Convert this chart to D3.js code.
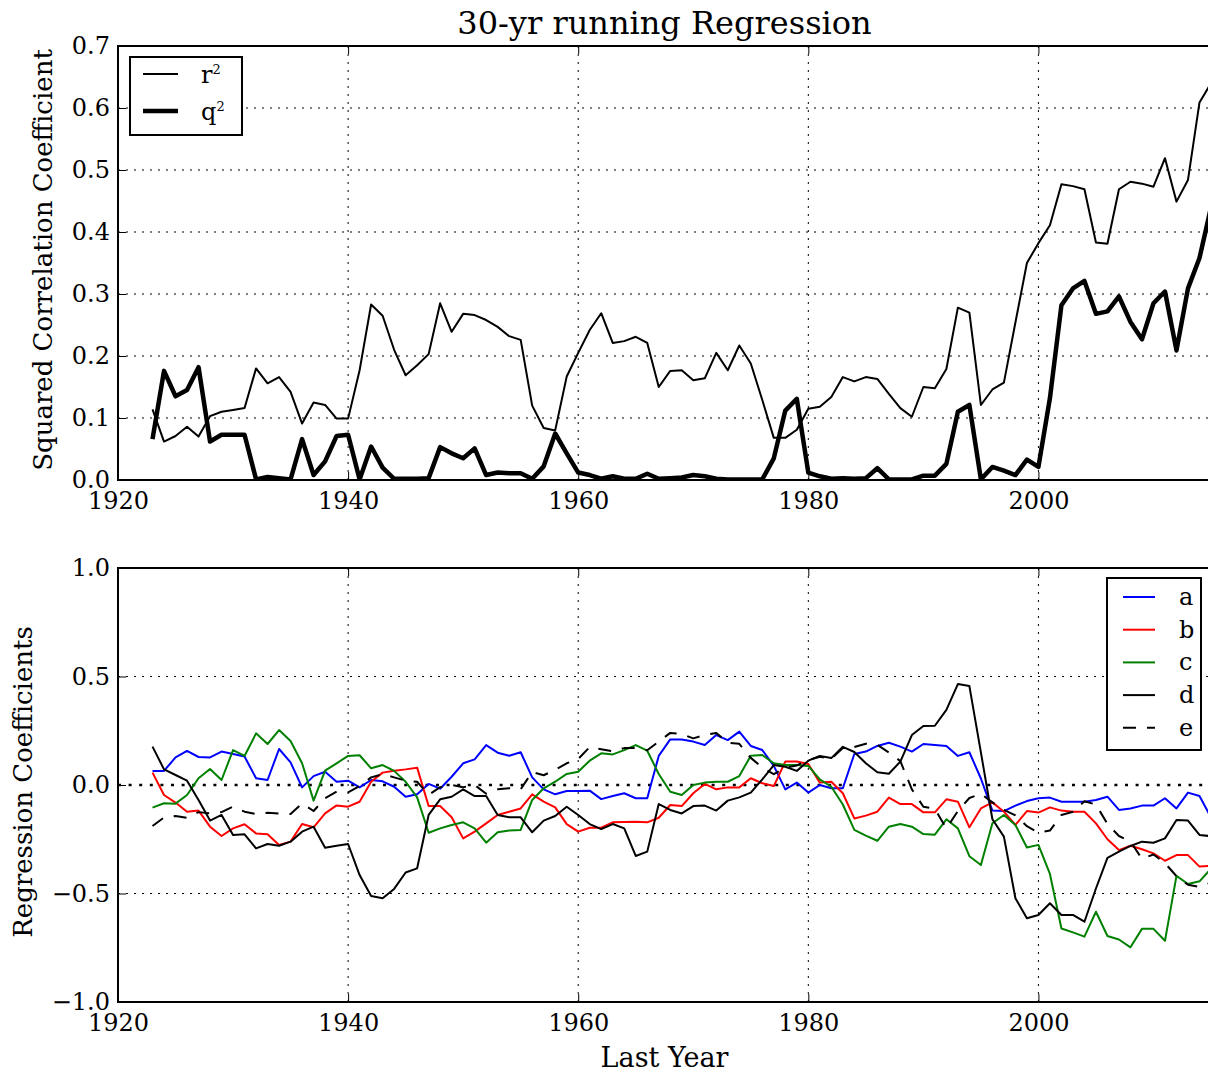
<!DOCTYPE html>
<html>
<head>
<meta charset="utf-8">
<script src="https://cdnjs.cloudflare.com/ajax/libs/d3/7.8.5/d3.min.js"></script>
<style>
    body { margin: 0; background: #fff; }
    text { font-family: "DejaVu Serif", serif; fill: #000; }
</style>
</head>
<body>
<div id="chart"></div>
<script>
'use strict';

// values, one per year 1923..2015
var years = d3.range(1923, 2016);

var r2 = [
    0.114, 0.062, 0.071, 0.086, 0.070, 0.103, 0.110, 0.113,                 // 1923-1930
    0.116, 0.180, 0.156, 0.166, 0.142, 0.091, 0.125, 0.121, 0.099, 0.099,   // 1931-1940
    0.177, 0.283, 0.265, 0.210, 0.169, 0.185, 0.203, 0.285, 0.239, 0.268,   // 1941-1950
    0.266, 0.258, 0.247, 0.232, 0.226, 0.120, 0.084, 0.080, 0.167, 0.205,   // 1951-1960
    0.242, 0.269, 0.221, 0.224, 0.231, 0.221, 0.150, 0.176, 0.177, 0.161,   // 1961-1970
    0.164, 0.205, 0.177, 0.217, 0.188, 0.129, 0.068, 0.068, 0.081, 0.115,   // 1971-1980
    0.118, 0.134, 0.166, 0.159, 0.166, 0.163, 0.139, 0.116, 0.102, 0.150,   // 1981-1990
    0.148, 0.179, 0.278, 0.270, 0.121, 0.146, 0.157, 0.254, 0.350, 0.382,   // 1991-2000
    0.411, 0.477, 0.474, 0.469, 0.383, 0.381, 0.469, 0.481, 0.478, 0.473,   // 2001-2010
    0.519, 0.449, 0.484, 0.609, 0.640                                       // 2011-2015
];

var q2 = [
    0.066, 0.176, 0.135, 0.145, 0.182, 0.062, 0.073, 0.073,
    0.073, 0.001, 0.005, 0.003, 0.001, 0.066, 0.008, 0.030, 0.071, 0.073,
    0.001, 0.054, 0.020, 0.002, 0.002, 0.002, 0.003, 0.053, 0.043, 0.035,
    0.051, 0.008, 0.012, 0.011, 0.011, 0.002, 0.022, 0.075, 0.043, 0.012,
    0.008, 0.002, 0.006, 0.002, 0.002, 0.010, 0.002, 0.003, 0.004, 0.008,
    0.006, 0.002, 0.001, 0.001, 0.001, 0.001, 0.035, 0.112, 0.131, 0.012,
    0.006, 0.002, 0.003, 0.002, 0.003, 0.019, 0.001, 0.001, 0.001, 0.007,
    0.007, 0.026, 0.110, 0.121, 0.001, 0.021, 0.015, 0.008, 0.033, 0.021,
    0.132, 0.282, 0.309, 0.321, 0.268, 0.272, 0.296, 0.255, 0.227, 0.285,
    0.304, 0.209, 0.309, 0.358, 0.440
];

var coefA = [
    0.065, 0.065, 0.127, 0.157, 0.129, 0.127, 0.154, 0.143,
    0.131, 0.031, 0.023, 0.166, 0.104, -0.011, 0.041, 0.061, 0.015, 0.020,
    -0.011, 0.023, 0.017, -0.008, -0.054, -0.043, 0.005, -0.017, 0.038, 0.100,
    0.118, 0.184, 0.149, 0.135, 0.151, 0.035, -0.020, -0.043, -0.028, -0.028,
    -0.026, -0.065, -0.051, -0.038, -0.061, -0.061, 0.134, 0.210, 0.210, 0.200,
    0.184, 0.230, 0.207, 0.246, 0.180, 0.161, 0.088, -0.020, 0.011, -0.035,
    0.000, -0.015, -0.015, 0.143, 0.154, 0.180, 0.195, 0.177, 0.154, 0.189,
    0.184, 0.180, 0.134, 0.151, 0.030, -0.118, -0.120, -0.095, -0.074, -0.061,
    -0.058, -0.077, -0.077, -0.077, -0.069, -0.054, -0.115, -0.108, -0.095, -0.095,
    -0.061, -0.108, -0.035, -0.051, -0.150
];

var coefB = [
    0.057, -0.046, -0.081, -0.123, -0.118, -0.192, -0.235, -0.200,
    -0.181, -0.223, -0.227, -0.276, -0.261, -0.180, -0.195, -0.131, -0.094, -0.100,
    -0.077, 0.015, 0.057, 0.066, 0.072, 0.080, -0.097, -0.097, -0.149, -0.246,
    -0.215, -0.177, -0.138, -0.123, -0.108, -0.043, -0.077, -0.103, -0.180, -0.215,
    -0.197, -0.197, -0.172, -0.171, -0.169, -0.172, -0.151, -0.092, -0.097, -0.038,
    0.005, -0.020, -0.011, -0.011, 0.031, 0.008, -0.005, 0.108, 0.108, 0.097,
    0.011, 0.015, -0.038, -0.154, -0.141, -0.123, -0.058, -0.088, -0.088, -0.126,
    -0.126, -0.066, -0.077, -0.195, -0.108, -0.080, -0.123, -0.184, -0.120, -0.127,
    -0.103, -0.118, -0.123, -0.123, -0.177, -0.250, -0.300, -0.280, -0.296, -0.315,
    -0.349, -0.323, -0.323, -0.376, -0.373
];

var coefC = [
    -0.104, -0.084, -0.086, -0.046, 0.031, 0.074, 0.023, 0.161,
    0.134, 0.238, 0.189, 0.253, 0.203, 0.100, -0.072, 0.066, 0.100, 0.134,
    0.137, 0.077, 0.092, 0.065, 0.015, -0.057, -0.220, -0.200, -0.184, -0.172,
    -0.200, -0.266, -0.218, -0.210, -0.207, -0.069, -0.015, 0.015, 0.051, 0.061,
    0.112, 0.146, 0.141, 0.161, 0.184, 0.158, 0.051, -0.031, -0.046, 0.000,
    0.011, 0.015, 0.015, 0.041, 0.135, 0.138, 0.100, 0.092, 0.092, 0.088,
    0.026, -0.008, -0.090, -0.207, -0.233, -0.257, -0.192, -0.180, -0.192, -0.226,
    -0.229, -0.158, -0.200, -0.328, -0.369, -0.176, -0.138, -0.184, -0.288, -0.276,
    -0.410, -0.661, -0.679, -0.699, -0.584, -0.696, -0.712, -0.748, -0.663, -0.663,
    -0.718, -0.419, -0.456, -0.444, -0.385
];

var coefD = [
    0.177, 0.072, 0.046, 0.020, -0.069, -0.164, -0.138, -0.230,
    -0.227, -0.292, -0.272, -0.280, -0.261, -0.215, -0.192, -0.289, -0.280, -0.272,
    -0.415, -0.512, -0.522, -0.479, -0.403, -0.384, -0.138, -0.066, -0.054, -0.020,
    -0.051, -0.051, -0.138, -0.149, -0.149, -0.218, -0.164, -0.143, -0.100, -0.138,
    -0.180, -0.203, -0.180, -0.200, -0.327, -0.307, -0.088, -0.115, -0.131, -0.097,
    -0.095, -0.118, -0.072, -0.057, -0.035, 0.026, 0.092, 0.084, 0.065, 0.112,
    0.134, 0.124, 0.176, 0.152, 0.100, 0.059, 0.052, 0.108, 0.230, 0.272,
    0.273, 0.346, 0.465, 0.456, 0.150, -0.158, -0.238, -0.522, -0.614, -0.599,
    -0.545, -0.599, -0.599, -0.630, -0.477, -0.336, -0.307, -0.281, -0.261, -0.266,
    -0.246, -0.161, -0.164, -0.230, -0.236
];

var coefE = [
    -0.189, -0.150, -0.143, -0.151, -0.125, -0.131, -0.125, -0.100,
    -0.123, -0.134, -0.128, -0.132, -0.134, -0.085, -0.120, -0.061, -0.031, -0.034,
    -0.005, 0.035, 0.050, 0.035, 0.020, 0.015, -0.045, -0.010, 0.000, -0.010,
    0.000, -0.040, -0.020, -0.015, -0.020, 0.060, 0.045, 0.070, 0.100, 0.120,
    0.175, 0.165, 0.155, 0.170, 0.170, 0.160, 0.200, 0.240, 0.235, 0.215,
    0.230, 0.240, 0.195, 0.190, 0.125, 0.080, 0.050, 0.080, 0.090, 0.115,
    0.130, 0.120, 0.170, 0.175, 0.190, 0.185, 0.150, 0.110, -0.020, -0.100,
    -0.110, -0.200, -0.120, -0.060, -0.040, -0.080, -0.115, -0.140, -0.190, -0.220,
    -0.210, -0.138, -0.123, -0.075, -0.090, -0.180, -0.235, -0.260, -0.340, -0.320,
    -0.360, -0.420, -0.460, -0.470, -0.450
];

var xTicks = [1920, 1940, 1960, 1980, 2000];
var topYTicks = [0, 0.1, 0.2, 0.3, 0.4, 0.5, 0.6, 0.7];
var bottomYTicks = [-1, -0.5, 0, 0.5, 1];

var topSeries = [
    {label: 'r', values: r2, width: 2},
    {label: 'q', values: q2, width: 4.5}
];
var bottomSeries = [
    {label: 'a', values: coefA, color: '#0000ff', dash: null},
    {label: 'b', values: coefB, color: '#ff0000', dash: null},
    {label: 'c', values: coefC, color: '#008000', dash: null},
    {label: 'd', values: coefD, color: '#000000', dash: null},
    {label: 'e', values: coefE, color: '#000000', dash: '13,11'}
];

var width = 1208,
    height = 1072,
    left = 118,
    right = 1211;

var svg = d3.select('#chart').append('svg')
    .attr('width', width)
    .attr('height', height);

var x = d3.scaleLinear().domain([1920, 2015]).range([left, right]);

var drawPanel = function (id, top, bottom, y, gridTicks, yTicks, fmt) {
    var g = svg.append('g').attr('class', id);

    g.append('clipPath').attr('id', 'clip-' + id)
        .append('rect')
        .attr('x', left).attr('y', top)
        .attr('width', right - left).attr('height', bottom - top);

    // dotted grid
    g.selectAll('.vgrid').data(xTicks.slice(1))
        .enter().append('line')
        .attr('x1', function (d) { return x(d); })
        .attr('x2', function (d) { return x(d); })
        .attr('y1', top).attr('y2', bottom)
        .style('stroke', '#000').style('stroke-width', 1)
        .style('stroke-dasharray', '2,6');
    g.selectAll('.hgrid').data(gridTicks)
        .enter().append('line')
        .attr('x1', left).attr('x2', right)
        .attr('y1', function (d) { return y(d); })
        .attr('y2', function (d) { return y(d); })
        .style('stroke', '#000').style('stroke-width', 1)
        .style('stroke-dasharray', '2,6');

    // axes, ticks pointing inward
    g.append('g').attr('transform', 'translate(0,' + bottom + ')')
        .call(d3.axisBottom(x).tickValues(xTicks).tickFormat(d3.format('d'))
            .tickSize(-8).tickPadding(12));
    g.append('g').attr('transform', 'translate(0,' + top + ')')
        .call(d3.axisTop(x).tickValues(xTicks).tickFormat('').tickSize(-8));
    g.append('g').attr('transform', 'translate(' + left + ',0)')
        .call(d3.axisLeft(y).tickValues(yTicks).tickFormat(d3.format(fmt))
            .tickSize(-8).tickPadding(8));

    g.selectAll('.domain').remove();
    g.selectAll('.tick line').style('stroke', '#000').style('stroke-width', 1);
    g.selectAll('.tick text')
        .style('font-family', '"DejaVu Serif", serif')
        .style('font-size', '24px')
        .style('fill', '#000');

    return g;
};

var frame = function (g, top, bottom) {
    g.append('rect')
        .attr('x', left).attr('y', top)
        .attr('width', right - left).attr('height', bottom - top)
        .style('fill', 'none').style('stroke', '#000').style('stroke-width', 2);
};

// ---- top panel
var yTop = d3.scaleLinear().domain([0, 0.7]).range([480, 46]);
var gTop = drawPanel('top', 46, 480, yTop, topYTicks.slice(1, -1), topYTicks, '.1f');

var lineTop = d3.line()
    .x(function (d, i) { return x(years[i]); })
    .y(function (d) { return yTop(d); });

gTop.append('g').attr('clip-path', 'url(#clip-top)')
    .selectAll('path').data(topSeries)
    .enter().append('path')
    .attr('d', function (d) { return lineTop(d.values); })
    .style('fill', 'none')
    .style('stroke', '#000')
    .style('stroke-width', function (d) { return d.width; })
    .style('stroke-linejoin', 'round');

frame(gTop, 46, 480);

// legend
var legTop = gTop.append('g');
legTop.append('rect')
    .attr('x', 130).attr('y', 57).attr('width', 112).attr('height', 78)
    .style('fill', '#fff').style('stroke', '#000').style('stroke-width', 2);
var legTopRows = legTop.selectAll('.row').data(topSeries)
    .enter().append('g')
    .attr('transform', function (d, i) { return 'translate(0,' + (74 + i * 37) + ')'; });
legTopRows.append('line')
    .attr('x1', 143).attr('x2', 178)
    .style('stroke', '#000')
    .style('stroke-width', function (d) { return d.width; });
var lt = legTopRows.append('text')
    .attr('x', 201).attr('y', 9)
    .style('font-size', '24px');
lt.append('tspan').text(function (d) { return d.label; });
lt.append('tspan').attr('dy', -9).style('font-size', '13px').text('2');

svg.append('text')
    .attr('x', (left + right) / 2).attr('y', 34)
    .attr('text-anchor', 'middle')
    .style('font-size', '32px')
    .text('30-yr running Regression');

svg.append('text')
    .attr('transform', 'translate(52,260) rotate(-90)')
    .attr('text-anchor', 'middle')
    .style('font-size', '26px')
    .text('Squared Correlation Coefficient');

// ---- bottom panel
var yBot = d3.scaleLinear().domain([-1, 1]).range([1002, 568]);
var gBot = drawPanel('bot', 568, 1002, yBot, [-0.5, 0.5], bottomYTicks, '.1f');

// heavier dotted zero line
gBot.append('line')
    .attr('x1', left).attr('x2', right)
    .attr('y1', yBot(0)).attr('y2', yBot(0))
    .style('stroke', '#000').style('stroke-width', 2.5)
    .style('stroke-dasharray', '3,7.6');

var lineBot = d3.line()
    .x(function (d, i) { return x(years[i]); })
    .y(function (d) { return yBot(d); });

gBot.append('g').attr('clip-path', 'url(#clip-bot)')
    .selectAll('path').data(bottomSeries)
    .enter().append('path')
    .attr('d', function (d) { return lineBot(d.values); })
    .style('fill', 'none')
    .style('stroke', function (d) { return d.color; })
    .style('stroke-width', 2)
    .style('stroke-linejoin', 'round')
    .style('stroke-dasharray', function (d) { return d.dash; });

frame(gBot, 568, 1002);

var legBot = gBot.append('g');
legBot.append('rect')
    .attr('x', 1107).attr('y', 578).attr('width', 94).attr('height', 172)
    .style('fill', '#fff').style('stroke', '#000').style('stroke-width', 2);
var legBotRows = legBot.selectAll('.row').data(bottomSeries)
    .enter().append('g')
    .attr('transform', function (d, i) { return 'translate(0,' + (597 + i * 32.7) + ')'; });
legBotRows.append('line')
    .attr('x1', 1123).attr('x2', 1155)
    .style('stroke', function (d) { return d.color; })
    .style('stroke-width', 2)
    .style('stroke-dasharray', function (d) { return d.dash; });
legBotRows.append('text')
    .attr('x', 1179).attr('y', 8)
    .style('font-size', '24px')
    .text(function (d) { return d.label; });

svg.append('text')
    .attr('transform', 'translate(32,782) rotate(-90)')
    .attr('text-anchor', 'middle')
    .style('font-size', '26px')
    .text('Regression Coefficients');

svg.append('text')
    .attr('x', (left + right) / 2).attr('y', 1067)
    .attr('text-anchor', 'middle')
    .style('font-size', '27px')
    .text('Last Year');
</script>
</body>
</html>
